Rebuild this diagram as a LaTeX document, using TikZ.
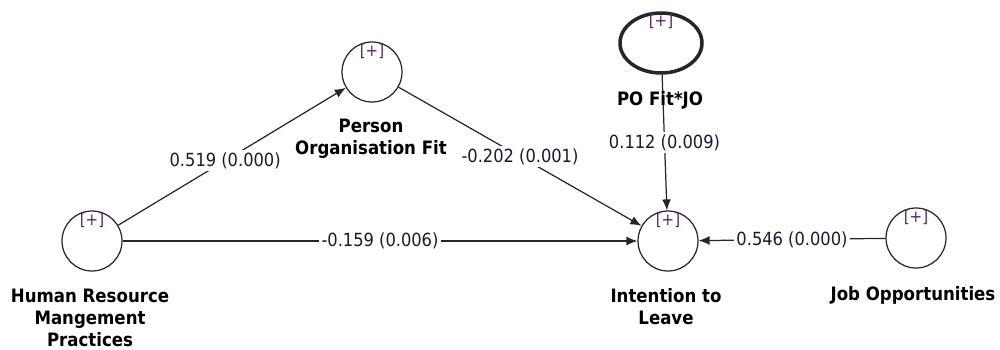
\documentclass[tikz,border=0pt]{standalone}
\usepackage{fontspec}
\setmainfont{DejaVu Sans Condensed}
\usetikzlibrary{arrows.meta,shapes.geometric,positioning}

\definecolor{plusc}{RGB}{95,35,110}
\definecolor{coefc}{RGB}{25,25,55}

\tikzset{
  latent/.style={circle, draw=black!85, line width=0.7pt, minimum size=1.2cm, inner sep=0pt},
  plusmark/.style={anchor=north, inner sep=1pt, text=plusc, font=\fontsize{9.5}{10}\selectfont},
  lvname/.style={align=center, font=\bfseries\fontsize{10.5}{12.6}\selectfont},
  coef/.style={fill=white, inner sep=1.5pt, text=coefc, font=\fontsize{10.3}{12}\selectfont},
  path/.style={draw=black!85, line width=0.7pt, -{Latex[length=2.2mm,width=1.8mm]}}
}

\begin{document}
\begin{tikzpicture}[x=0.02cm, y=-0.02cm]
  \useasboundingbox (0,0) rectangle (1000,349);

  % latent variables
  \node[latent] (hrm) at (92,241) {};
  \node[latent] (pof) at (372,72) {};
  \node[latent, ellipse, line width=2pt, minimum width=1.64cm, minimum height=1.2cm] (int) at (661,43) {};
  \node[latent] (itl) at (668,241) {};
  \node[latent] (jo) at (916,238) {};

  % [+] marks
  \node[plusmark] (hrm-p) at (hrm.north) {[+]};
  \node[plusmark] (pof-p) at (pof.north) {[+]};
  \node[plusmark] (int-p) at (int.north) {[+]};
  \node[plusmark] (itl-p) at (itl.north) {[+]};
  \node[plusmark] (jo-p) at (jo.north) {[+]};

  % names
  \node[lvname] (hrm-n) at (90,318) {Human Resource\\Mangement\\Practices};
  \node[lvname] (pof-n) at (371,139) {Person\\Organisation Fit};
  \node[lvname] (itl-n) at (666,307) {Intention to\\Leave};
  \node[lvname] (jo-n) at (913,295) {Job Opportunities};

  % paths
  \draw[path] (hrm) -- node[coef, pos=0.47] {0.519 (0.000)} (pof);
  \draw[path] (pof) -- node[coef, pos=0.5] {-0.202 (0.001)} (itl);
  \draw[path] (hrm) -- node[coef, pos=0.5] {-0.159 (0.006)} (itl);
  \draw[path] (int) -- node[coef, pos=0.5] {0.112 (0.009)} (itl);
  \draw[path] (jo) -- node[coef, pos=0.5] {0.546 (0.000)} (itl);

  \node[lvname] (int-n) at (660,100) {PO Fit*JO};
\end{tikzpicture}
\end{document}
